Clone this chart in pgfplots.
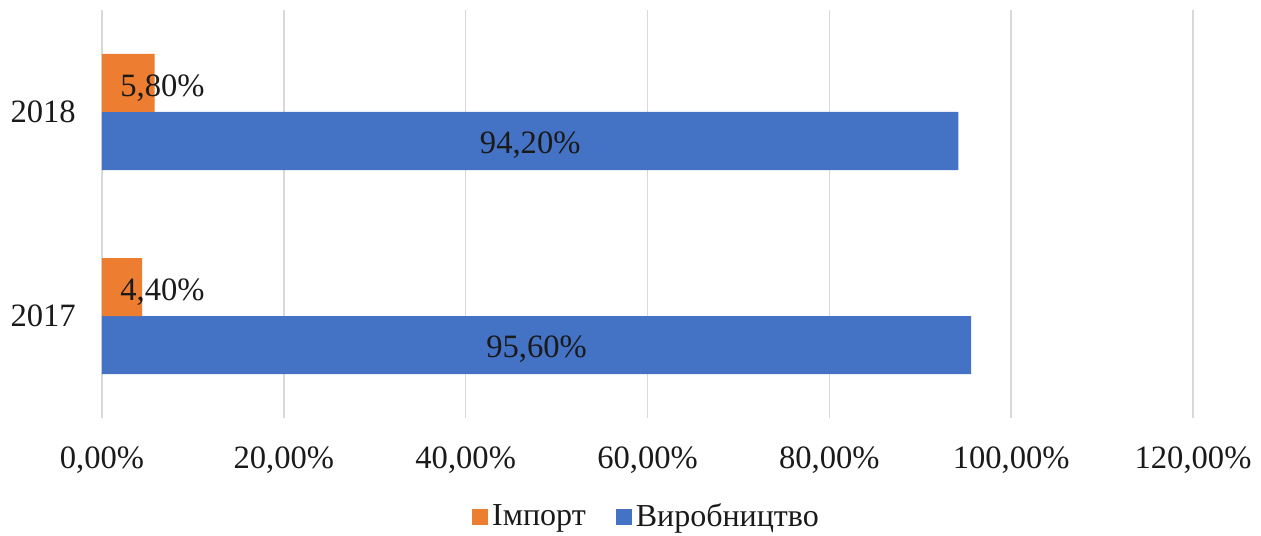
\documentclass[border=0pt]{standalone}
\usepackage{fontspec}
\setmainfont{Liberation Serif}
\usepackage{pgfplots}
\pgfplotsset{compat=1.18}
\definecolor{cimp}{HTML}{ED7D31}
\definecolor{cvyr}{HTML}{4472C4}
\definecolor{cgrid}{HTML}{D9D9D9}
\definecolor{ctxt}{HTML}{1A1A1A}
\begin{document}
\fontsize{16.3}{19}\selectfont
\begin{tikzpicture}
\path[use as bounding box] (-51pt,-58.5pt) rectangle (579.5pt,209pt);
\begin{axis}[
  at={(0pt,0pt)}, anchor=south west,
  scale only axis, width=545.5pt, height=204pt,
  xbar=0pt, bar width=29pt,
  xmin=0, xmax=120, ymin=-0.5, ymax=1.5,
  axis line style={draw=none},
  xtick={0,20,40,60,80,100,120},
  xticklabels={{0,00\%},{20,00\%},{40,00\%},{60,00\%},{80,00\%},{100,00\%},{120,00\%}},
  ytick={0,1}, yticklabels={2017,2018},
  major tick length=0pt,
  xmajorgrids, grid style={cgrid, line width=0.8pt},
  xticklabel style={font=\fontsize{16.3}{19}\selectfont, text=ctxt, yshift=-9pt},
  yticklabel style={font=\fontsize{16.3}{19}\selectfont, text=ctxt, xshift=-7.5pt},
  reverse legend,
  legend columns=2,
  legend style={at={(0.5,-0.243)}, anchor=center, draw=none, fill=none,
    font=\fontsize{16}{19}\selectfont, text=ctxt,
    /tikz/every even column/.append style={column sep=13pt},
    inner sep=0pt},
  legend cell align=left,
  legend image code/.code={\fill[#1] (0pt,-4pt) rectangle (8pt,4pt);},
]
\addplot[fill=cvyr, draw=none] coordinates {(95.6,0) (94.2,1)};
\addlegendentry{Виробництво}
\addplot[fill=cimp, draw=none] coordinates {(4.4,0) (5.8,1)};
\addlegendentry{Імпорт}
\node[anchor=west, text=ctxt, inner sep=0pt, yshift=12pt, xshift=9pt] at (axis cs:0,1) {5,80\%};
\node[anchor=west, text=ctxt, inner sep=0pt, yshift=12pt, xshift=9pt] at (axis cs:0,0) {4,40\%};
\node[anchor=center, text=ctxt, inner sep=0pt, yshift=-16.5pt] at (axis cs:47.1,1) {94,20\%};
\node[anchor=center, text=ctxt, inner sep=0pt, yshift=-16.5pt] at (axis cs:47.8,0) {95,60\%};
\end{axis}
\end{tikzpicture}
\end{document}
